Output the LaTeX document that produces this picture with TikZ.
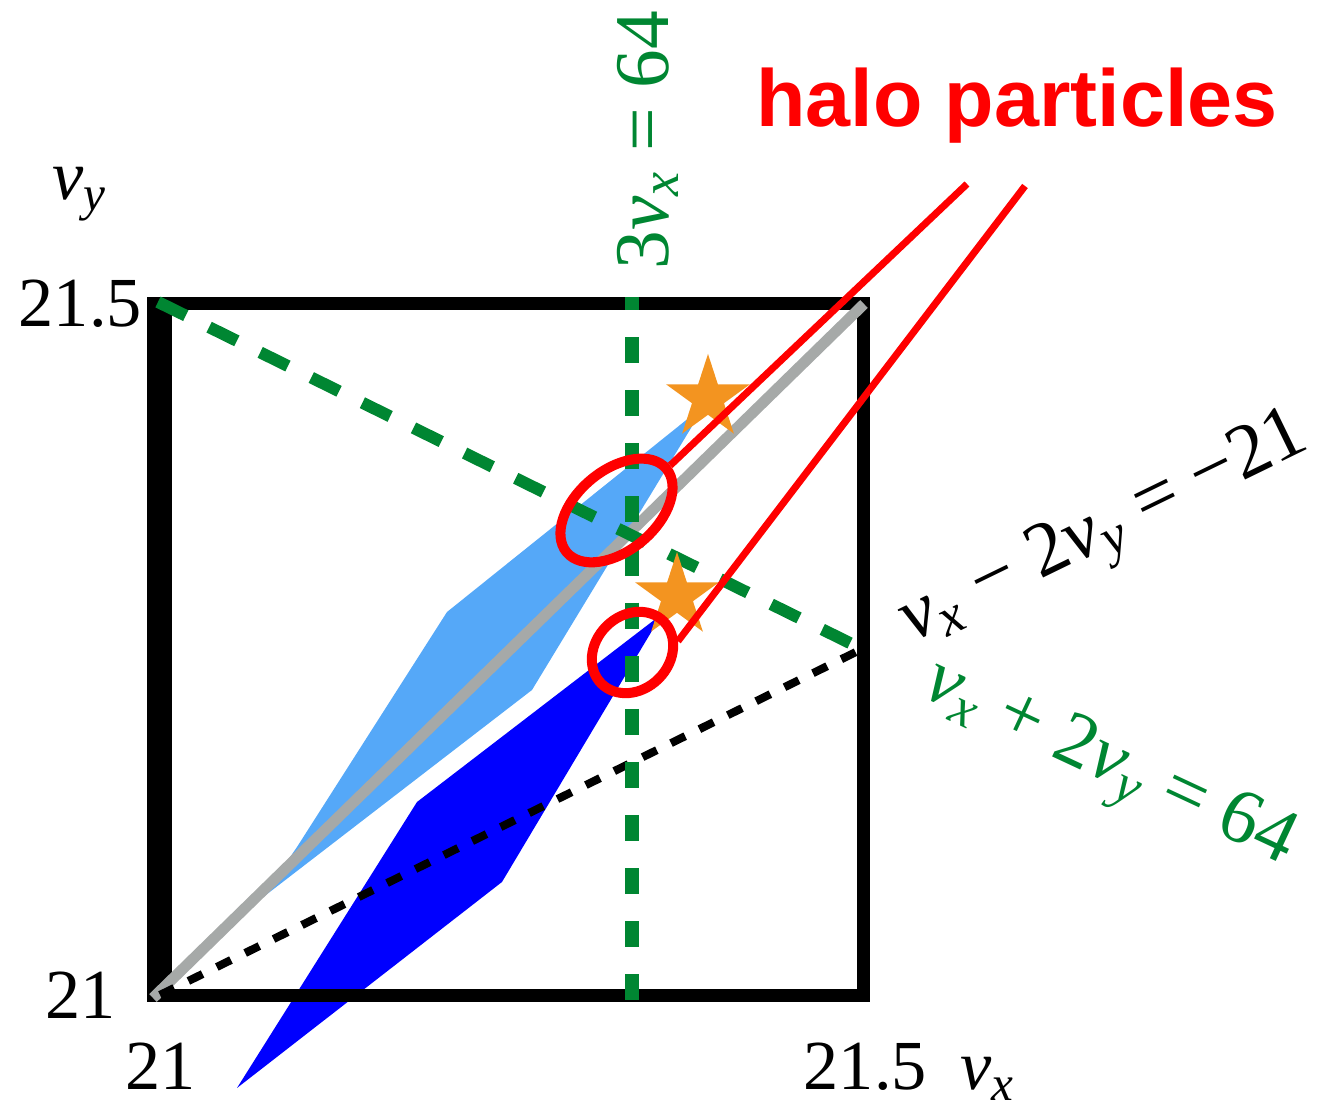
\documentclass[tikz,border=0pt]{standalone}
\usepackage{fontspec}
\setmainfont{Liberation Serif}
\newfontfamily\halofont{Liberation Sans}
\usetikzlibrary{shapes.geometric}
\definecolor{eqgreen}{RGB}{0,134,50}
\definecolor{haloblue}{RGB}{85,168,248}
\definecolor{starorange}{RGB}{243,148,32}
\definecolor{diaggray}{RGB}{166,169,168}
\newcommand\vv[1]{\textit{v}\textsubscript{\textit{#1}}}

\begin{document}
\begin{tikzpicture}[x=0.01cm,y=-0.01cm,
  num/.style={font=\fontsize{20}{24}\selectfont, inner sep=0, anchor=base west},
  eqn/.style={font=\fontsize{22}{26}\selectfont, inner sep=0, anchor=base},
  halo/.style={ellipse, draw=red, line width=2.85pt, inner sep=0},
  starnode/.style={star, star points=5, star point ratio=2.618, fill=starorange, inner sep=0, minimum size=0.88cm},
  ptr/.style={red, line width=2pt}]
  \useasboundingbox (0,0) rectangle (1317,1101);
  % velocity regions
  \fill[haloblue] (705,405) -- (447,612) -- (297,847) -- (262,898) -- (532,690) -- cycle;
  \fill[blue] (662,614) -- (417,802) -- (237,1088) -- (502,882) -- cycle;
  % frame and lines
  \draw[line width=3.7pt] (154,303.5) rectangle (863.5,995.5); \fill (148,297) rectangle (172,1002);
  \draw[diaggray, line width=3.1pt] (153,998) -- (864,304);
  \draw[line width=2.3pt, dash pattern=on 4.5pt off 4.5pt] (160,995) -- (858,651);
  \draw[eqgreen, line width=3.7pt, dash pattern=on 7.4pt off 7.7pt, dash phase=3.7pt] (632,297) -- (632,1002);
  \draw[eqgreen, line width=3.4pt, dash pattern=on 8.8pt off 7.4pt] (158,302) -- (860,648);
  \node[starnode] (s1) at (708,398) {}; \node[starnode] (s2) at (677,596) {};
  % halo particles
  \node[halo, rotate=40, minimum width=1.3cm, minimum height=0.8cm] (h1) at (616.5,510.5) {};
  \node[halo, rotate=45, minimum width=0.88cm, minimum height=0.74cm] (h2) at (632.5,652.5) {};
  \coordinate (t1) at (967,184); \coordinate (t2) at (1025,186);
  \draw[ptr] (h1.east) -- (t1); \draw[ptr] (h2.-31) -- (t2);
  \node[red, font=\halofont\bfseries\fontsize{23}{28}\selectfont, inner sep=0, anchor=base] (title) at (1017,127) {halo particles};
  % labels
  \node[num] (ylab) at (52,200) {\vv{y}}; \node[num] (ytop) at (18,327) {21.5}; \node[num] (ybot) at (45,1019) {21};
  \node[num] (xleft) at (125,1090) {21}; \node[num] (xright) at (803,1090) {21.5}; \node[num] (xlab) at (960,1090) {\vv{x}};
  \node[eqn, eqgreen, rotate=90] (vert) at (668,140) {3\vv{x} = 64};
  \node[eqn, rotate=26] (lower) at (1112,545) {\vv{x} − 2\vv{y} = −21};
  \node[eqn, eqgreen, rotate=-25] (upper) at (1102,780) {\vv{x} + 2\vv{y} = 64};
\end{tikzpicture}
\end{document}
